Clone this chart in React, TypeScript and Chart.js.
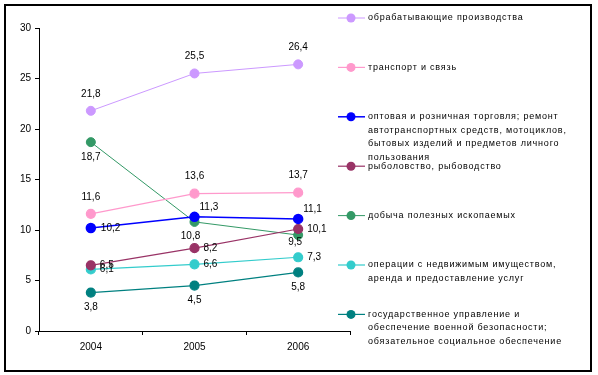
import React, { useEffect, useRef } from 'react';
import { Chart, registerables } from 'chart.js';
Chart.register(...registerables);

const years = ['2004', '2005', '2006'];
const yTicks = [0, 5, 10, 15, 20, 25, 30];

const nameManufacturing = ['обрабатывающие производства'];
const nameTransport = ['транспорт и связь'];
const nameTrade = [
  'оптовая и розничная торговля; ремонт',
  'автотранспортных средств, мотоциклов,',
  'бытовых изделий и предметов личного',
  'пользования',
];
const nameFishing = ['рыболовство, рыбоводство'];
const nameMining = ['добыча полезных ископаемых'];
const nameRealEstate = ['операции с недвижимым имуществом,', 'аренда и предоставление услуг'];
const nameGovernment = [
  'государственное управление и',
  'обеспечение военной безопасности;',
  'обязательное социальное обеспечение',
];

const manufacturing = [21.8, 25.5, 26.4];
const transport = [11.6, 13.6, 13.7];
const trade = [10.2, 11.3, 11.1];
const fishing = [6.5, 8.2, 10.1];
const mining = [18.7, 10.8, 9.5];
const realEstate = [6.1, 6.6, 7.3];
const government = [3.8, 4.5, 5.8];

// label placement (style): [dx, dy, textAlign]
const ABOVE: [number, number, CanvasTextAlign] = [0, -17, 'center'];
const BELOW: [number, number, CanvasTextAlign] = [0, 15, 'center'];
const RIGHT: [number, number, CanvasTextAlign] = [9, 0, 'left'];
const UPRIGHT: [number, number, CanvasTextAlign] = [5, -10, 'left'];

const LABEL_FONT = '10px "Liberation Sans", Arial, sans-serif';
const LEGEND_FONT = '9px "Liberation Sans", Arial, sans-serif';

const mk = (lines: string[], data: number[], color: string, width: number, places: any[]) => ({
  label: lines.join(' '),
  legendLines: lines,
  data,
  borderColor: color,
  backgroundColor: color,
  pointBackgroundColor: color,
  pointBorderColor: color,
  pointRadius: 4.5,
  pointHoverRadius: 4.5,
  borderWidth: width,
  tension: 0,
  fill: false,
  labelPlaces: places,
});

const borderPlugin = {
  id: 'frame',
  beforeDraw(chart: any) {
    const ctx = chart.ctx;
    ctx.save();
    ctx.fillStyle = '#fff';
    ctx.fillRect(0, 0, chart.width, chart.height);
    ctx.strokeStyle = '#000';
    ctx.lineWidth = 2;
    ctx.strokeRect(5, 5, 586, 366);
    ctx.restore();
  },
};

const labelPlugin = {
  id: 'pointLabels',
  afterDatasetsDraw(chart: any) {
    const ctx = chart.ctx;
    ctx.save();
    ctx.font = LABEL_FONT;
    ctx.fillStyle = '#000';
    ctx.textBaseline = 'middle';
    chart.data.datasets.forEach((ds: any, i: number) => {
      const meta = chart.getDatasetMeta(i);
      meta.data.forEach((pt: any, j: number) => {
        const [dx, dy, align] = ds.labelPlaces[j];
        ctx.textAlign = align;
        ctx.fillText(String(ds.data[j]).replace('.', ','), pt.x + dx, pt.y + dy);
      });
    });
    ctx.restore();
  },
};

const legendPlugin = {
  id: 'sideLegend',
  afterDraw(chart: any) {
    const ctx = chart.ctx;
    ctx.save();
    ctx.font = LEGEND_FONT;
    (ctx as any).letterSpacing = '0.8px';
    ctx.textBaseline = 'middle';
    ctx.textAlign = 'left';
    const x0 = 338;
    const top = 18;
    const step = 49.4;
    const lh = 13.6;
    chart.data.datasets.forEach((ds: any, i: number) => {
      const y = top + i * step;
      ctx.strokeStyle = ds.borderColor;
      ctx.lineWidth = ds.borderWidth;
      ctx.beginPath();
      ctx.moveTo(x0, y);
      ctx.lineTo(x0 + 27, y);
      ctx.stroke();
      ctx.fillStyle = ds.borderColor;
      ctx.beginPath();
      ctx.arc(x0 + 13, y, 4.5, 0, Math.PI * 2);
      ctx.fill();
      ctx.fillStyle = '#000';
      ds.legendLines.forEach((line: string, k: number) => {
        ctx.fillText(line, x0 + 30, y + k * lh);
      });
    });
    ctx.restore();
  },
};

export default function App() {
  const ref = useRef<HTMLCanvasElement | null>(null);
  useEffect(() => {
    if (!ref.current) return;
    const chart = new Chart(ref.current, {
      type: 'line',
      data: {
        labels: years,
        datasets: [
          mk(nameManufacturing, manufacturing, '#CC99FF', 1, [ABOVE, ABOVE, ABOVE]),
          mk(nameTransport, transport, '#FF99CC', 1.2, [ABOVE, ABOVE, ABOVE]),
          mk(nameTrade, trade, '#0000FF', 1.5, [[10, 0, 'left'], UPRIGHT, UPRIGHT]),
          mk(nameFishing, fishing, '#993366', 1.2, [RIGHT, RIGHT, RIGHT]),
          mk(nameMining, mining, '#339966', 1, [BELOW, [-4, 14, 'center'], [-3, 7, 'center']]),
          mk(nameRealEstate, realEstate, '#33CCCC', 1.2, [RIGHT, RIGHT, RIGHT]),
          mk(nameGovernment, government, '#008080', 1.2, [BELOW, BELOW, BELOW]),
        ] as any,
      },
      options: {
        responsive: false,
        animation: false,
        events: [],
        layout: { padding: { left: 0, top: 28, right: 598 - 350, bottom: 0 } },
        plugins: {
          legend: { display: false },
          tooltip: { enabled: false },
          title: { display: false },
        },
        scales: {
          x: {
            type: 'category',
            offset: true,
            grid: {
              display: true,
              drawOnChartArea: false,
              offset: true,
              tickLength: 4,
              color: '#000',
            },
            border: { color: '#000', width: 1 },
            ticks: {
              color: '#000',
              font: { family: '"Liberation Sans", Arial, sans-serif', size: 10 },
              padding: 6,
              maxRotation: 0,
            },
            afterFit(scale: any) {
              scale.height = 375 - 331;
            },
          },
          y: {
            min: 0,
            max: 30,
            afterBuildTicks(scale: any) {
              scale.ticks = yTicks.map((v) => ({ value: v }));
            },
            grid: {
              display: true,
              drawOnChartArea: false,
              tickLength: 4,
              color: '#000',
            },
            border: { color: '#000', width: 1 },
            ticks: {
              color: '#000',
              font: { family: '"Liberation Sans", Arial, sans-serif', size: 10 },
              padding: 4,
            },
            afterFit(scale: any) {
              scale.width = 39;
            },
          },
        },
      },
      plugins: [borderPlugin, labelPlugin, legendPlugin],
    });
    return () => chart.destroy();
  }, []);
  return (
    <div style={{ position: 'absolute', left: 0, top: 0, width: 598, height: 375 }}>
      <canvas ref={ref} width={598} height={375} style={{ display: 'block', width: 598, height: 375 }} />
    </div>
  );
}
